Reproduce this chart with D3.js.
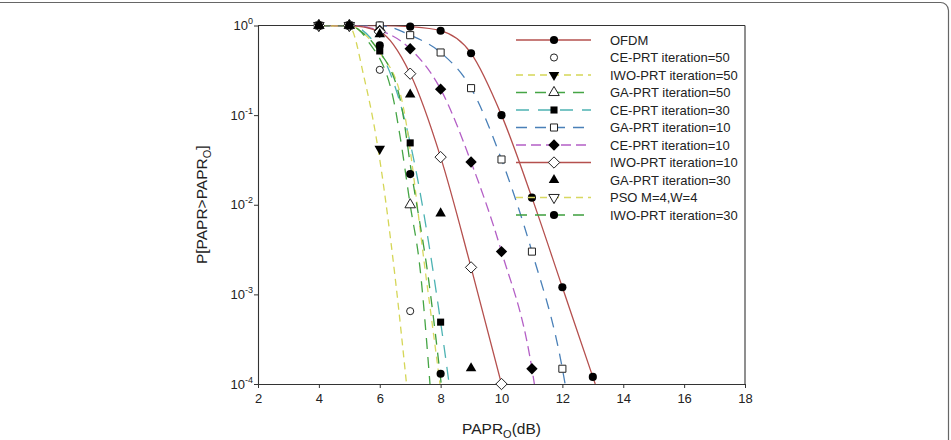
<!DOCTYPE html>
<html>
<head>
<meta charset="utf-8">
<script src="https://cdnjs.cloudflare.com/ajax/libs/d3/7.8.5/d3.min.js"></script>
<style>
  body { margin: 0; background: #fff; }
  svg { display: block; font-family: "Liberation Sans", Arial, sans-serif; }
</style>
</head>
<body>
<div id="chart"></div>
<script>
// axis ticks
const xTicks = [2, 4, 6, 8, 10, 12, 14, 16, 18];
const yTicks = [1e-4, 1e-3, 1e-2, 1e-1, 1];
const yExps = [-4, -3, -2, -1, 0];

// markers: [PAPR0 dB, probability]
const ofdmPts = [[4,1],[5,1],[6,1],[7,0.97],[8,0.875],[9,0.49],[10,0.1],[11,0.012],[12,0.0012],[13,0.00012]];
const ofdmLine = [[4,1],[5,1],[6,1],[7,0.97],[8,0.875],[9,0.49],[10,0.1],[11,0.012],[12,0.0012],[13,0.00012],[13.08,0.0001]];

const ce50Pts = [[4,1],[5,1],[6,0.32],[7,0.00065]];

const iwo50Pts = [[4,1],[5,1],[6,0.042]];
const iwo50Line = [[4,1],[5,0.97],[5.5,0.25],[5.87,0.06],[6.52,0.0014],[6.88,0.0001]];

const ga50Pts = [[4,1],[5,1],[7,0.01]];
const ga50Line = [[4,1],[5,1],[5.3,0.9],[5.6,0.68],[6.45,0.15],[6.66,0.06],[7,0.01],[7.32,0.002],[7.65,0.0001]];

const ce30Pts = [[4,1],[5,1],[6,0.52],[7,0.049],[8,0.00049]];
const ce30Line = [[4,1],[5,1],[6,0.52],[7,0.049],[8,0.00049],[8.28,0.0001]];

const ga10Pts = [[4,1],[5,1],[6,1],[7,0.78],[8,0.5],[9,0.2],[10,0.032],[11,0.003],[12,0.000148]];
const ga10Line = [[4,1],[5,1],[6,1],[7,0.78],[8,0.5],[9,0.2],[10,0.032],[11,0.003],[12,0.000148],[12.09,0.0001]];

const ce10Pts = [[4,1],[5,1],[6,0.88],[7,0.55],[8,0.195],[9,0.03],[10,0.003],[11,0.000148]];
const ce10Line = [[4,1],[5,1],[6,0.88],[7,0.55],[8,0.195],[9,0.03],[10,0.003],[11,0.000148],[11.08,0.0001]];

const iwo10Pts = [[4,1],[5,1],[6,0.85],[7,0.29],[8,0.034],[9,0.002],[10,0.0001]];

const ga30Pts = [[4,1],[5,1],[6,0.8],[7,0.17],[8,0.008],[9,0.00015]];

const psoPts = [[4,1],[5,1]];
const psoLine = [[4,1],[5,1],[5.4,0.85],[6,0.5],[6.72,0.15],[7.54,0.0014],[7.98,0.0001]];

const iwo30Pts = [[4,1],[5,1],[6,0.6],[7,0.022],[8,0.00013]];
const iwo30Line = [[4,1],[5,1],[5.4,0.85],[5.9,0.56],[6.67,0.15],[7.05,0.022],[7.6,0.0015],[8.02,0.0001]];

const series = [
  { name: "OFDM", pts: ofdmPts, line: ofdmLine, color: "#b5504e", dash: null, sym: "circle", fill: true },
  { name: "CE-PRT iteration=50", pts: ce50Pts, line: null, color: null, dash: null, sym: "circle", fill: false, small: true },
  { name: "IWO-PRT iteration=50", pts: iwo50Pts, line: iwo50Line, color: "#d5d657", dash: "7,5", sym: "down", fill: true },
  { name: "GA-PRT iteration=50", pts: ga50Pts, line: ga50Line, color: "#45a545", dash: "11,8", sym: "up", fill: false },
  { name: "CE-PRT iteration=30", pts: ce30Pts, line: ce30Line, color: "#4db3b3", dash: "13,9", sym: "square", fill: true },
  { name: "GA-PRT iteration=10", pts: ga10Pts, line: ga10Line, color: "#4a80b8", dash: "11,8", sym: "square", fill: false },
  { name: "CE-PRT iteration=10", pts: ce10Pts, line: ce10Line, color: "#b45fc6", dash: "10,5", sym: "diamond", fill: true },
  { name: "IWO-PRT iteration=10", pts: iwo10Pts, line: iwo10Pts, color: "#b5504e", dash: null, sym: "diamond", fill: false },
  { name: "GA-PRT iteration=30", pts: ga30Pts, line: null, color: null, dash: null, sym: "up", fill: true },
  { name: "PSO M=4,W=4", pts: psoPts, line: psoLine, color: "#d8d860", dash: "7,5", sym: "down", fill: false },
  { name: "IWO-PRT iteration=30", pts: iwo30Pts, line: iwo30Line, color: "#3e9e3e", dash: "11,8", sym: "circle", fill: true }
];

const W = 951, H = 440;
const m = { left: 258, right: 745, top: 25.5, bottom: 384 };

const svg = d3.select("#chart").append("svg").attr("width", W).attr("height", H);

// outer frame of the figure (only top/right edge shows)
svg.append("path")
  .attr("d", `M-2,2.5 H940 A8,8 0 0 1 948.5,10.5 V${H + 2}`)
  .attr("fill", "none").attr("stroke", "#666").attr("stroke-width", 1.2);

const x = d3.scaleLinear().domain([2, 18]).range([m.left, m.right]);
const y = d3.scaleLog().domain([1e-4, 1]).range([m.bottom, m.top]);

svg.append("clipPath").attr("id", "plotclip")
  .append("rect").attr("x", m.left).attr("y", m.top)
  .attr("width", m.right - m.left).attr("height", m.bottom - m.top);

// axes
const xAxis = svg.append("g").attr("transform", `translate(0,${m.bottom})`)
  .call(d3.axisBottom(x).tickValues(xTicks).tickSize(4).tickSizeOuter(0).tickFormat(d3.format("d")));
const yAxis = svg.append("g").attr("transform", `translate(${m.left},0)`)
  .call(d3.axisLeft(y).tickValues(yTicks).tickSize(4).tickSizeOuter(0).tickFormat(""));

[xAxis, yAxis].forEach(g => {
  g.select(".domain").attr("stroke", "#333").attr("stroke-width", 1.1);
  g.selectAll(".tick line").attr("stroke", "#333");
});
xAxis.selectAll(".tick text").attr("font-size", 13).attr("fill", "#222")
  .attr("font-family", "Liberation Sans, Arial, sans-serif").attr("dy", "0.95em");

// y tick labels with superscripts
const yl = svg.append("g").attr("font-size", 13).attr("fill", "#222");
yTicks.forEach((v, i) => {
  const t = yl.append("text").attr("x", m.left - 5).attr("y", y(v) + 4.5).attr("text-anchor", "end");
  t.append("tspan").text("10");
  t.append("tspan").attr("font-size", 9).attr("dy", -6).text(yExps[i]);
});

// top and right box lines
svg.append("line").attr("x1", m.left).attr("x2", m.right).attr("y1", m.top).attr("y2", m.top)
  .attr("stroke", "#333").attr("stroke-width", 1.1);
svg.append("line").attr("x1", m.right).attr("x2", m.right).attr("y1", m.top).attr("y2", m.bottom)
  .attr("stroke", "#333").attr("stroke-width", 1.1);

// axis titles
const xt = svg.append("text").attr("x", (m.left + m.right) / 2).attr("y", 434)
  .attr("text-anchor", "middle").attr("font-size", 15.5).attr("fill", "#222");
xt.append("tspan").text("PAPR");
xt.append("tspan").attr("font-size", 11).attr("dy", 4).text("O");
xt.append("tspan").attr("dy", -4).text("(dB)");

const yt = svg.append("text").attr("transform", `translate(207,${(m.top + m.bottom) / 2}) rotate(-90)`)
  .attr("text-anchor", "middle").attr("font-size", 15.5).attr("fill", "#222");
yt.append("tspan").text("P[PAPR>PAPR");
yt.append("tspan").attr("font-size", 11).attr("dy", 4).text("O");
yt.append("tspan").attr("dy", -4).text("]");

// symbols
const symPath = (sym, size) => {
  if (sym === "circle") return d3.symbol(d3.symbolCircle, size)();
  if (sym === "square") return d3.symbol(d3.symbolSquare, size)();
  if (sym === "up" || sym === "down") return d3.symbol(d3.symbolTriangle, size)();
  if (sym === "diamond") {
    const r = Math.sqrt(size) * 0.72;
    return `M0,${-r}L${r},0L0,${r}L${-r},0Z`;
  }
};
const symRot = sym => sym === "down" ? 180 : 0;

const drawMarker = (g, s, px, py) => {
  const size = s.sym === "circle" ? (s.small ? 40 : 52) : s.sym === "square" ? 50 : s.sym === "diamond" ? 62 : 48;
  g.append("path")
    .attr("d", symPath(s.sym, size))
    .attr("transform", `translate(${px},${py}) rotate(${symRot(s.sym)})`)
    .attr("fill", s.fill ? "#000" : "#fff")
    .attr("stroke", s.fill ? "none" : "#222")
    .attr("stroke-width", 1);
};

const line = d3.line().x(d => x(d[0])).y(d => y(d[1])).curve(d3.curveMonotoneX);

const plot = svg.append("g").attr("clip-path", "url(#plotclip)");
const markerLayer = svg.append("g");

series.forEach(s => {
  if (s.line) {
    plot.append("path").datum(s.line).attr("d", line)
      .attr("fill", "none").attr("stroke", s.color).attr("stroke-width", 1.3)
      .attr("stroke-dasharray", s.dash);
  }
});
series.forEach(s => {
  s.pts.forEach(d => drawMarker(markerLayer, s, x(d[0]), y(d[1])));
});

// legend
const lg = svg.append("g");
const lx0 = 516, lx1 = 591, lxm = 554, ly0 = 40, lstep = 17.5;
series.forEach((s, i) => {
  const yy = ly0 + i * lstep;
  if (s.line) {
    lg.append("line").attr("x1", lx0).attr("x2", lx1).attr("y1", yy).attr("y2", yy)
      .attr("stroke", s.color).attr("stroke-width", 1.3).attr("stroke-dasharray", s.dash);
  }
  drawMarker(lg, s, lxm, yy);
  lg.append("text").attr("x", 610).attr("y", yy + 4.5).attr("font-size", 13).attr("fill", "#222").text(s.name);
});
</script>
</body>
</html>
